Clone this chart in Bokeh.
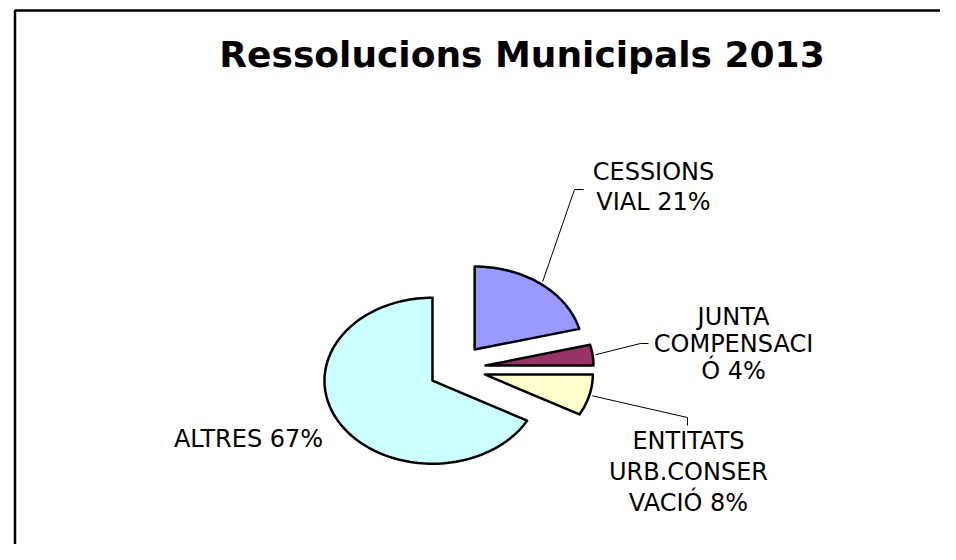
import numpy as np
from bokeh.plotting import figure
from bokeh.models import ColumnDataSource, Range1d
from bokeh.core.properties import value
from bokeh.embed import file_html
from bokeh.resources import INLINE

# ---------------- data ----------------
title_text = "Ressolucions Municipals 2013"
categories = ["CESSIONS VIAL", "JUNTA COMPENSACIÓ", "ENTITATS URB.CONSERVACIÓ", "ALTRES"]
values = [21, 4, 8, 67]
colors = ["#9999FF", "#993366", "#FFFFCC", "#CCFFFF"]
label_lines = [
    ["CESSIONS", "VIAL 21%"],
    ["JUNTA", "COMPENSACI", "Ó 4%"],
    ["ENTITATS", "URB.CONSER", "VACIÓ 8%"],
    ["ALTRES 67%"],
]

# ---------------- layout (pixel space) ----------------
W, H = 940, 544
cx, cy, rx, ry = 456.6, 368.0, 108.0, 83.0
ex, ey = 28.6, 24.0
TXT_SHIFT = 9      # compensation for rendered baseline offset (labels)
TITLE_SHIFT = 13
label_pos = [(653, 180), (733, 325), (688, 449), (248, 447)]
line_step = [30, 27, 31, 30]
leader_elbows = [
    [(574, 189), (583, 189)],
    [(640, 343), (648, 343)],
    [(687, 417), (687, 425)],
    None,
]

p = figure(width=W, height=H,
           x_range=Range1d(0, W), y_range=Range1d(H, 0),
           output_backend="svg", toolbar_location=None,
           x_axis_location=None, y_axis_location=None, min_border=0)
p.grid.visible = False
p.outline_line_color = None
p.background_fill_color = "white"
p.border_fill_color = "white"

# frame (left and top edges visible)
p.line([14.5, 14.5, 980], [600, 10, 10], line_color="black", line_width=2.5)

# pie slices
total = float(sum(values))
fr = np.cumsum([0] + values) / total
xs, ys, lead_x, lead_y = [], [], [], []
for i in range(len(values)):
    a0, a1 = 2 * np.pi * fr[i], 2 * np.pi * fr[i + 1]
    am = 0.5 * (a0 + a1)
    ox = cx + ex * np.sin(am)
    oy = cy - ey * np.cos(am)
    t = np.linspace(a0, a1, 120)
    xs.append([ox] + list(ox + rx * np.sin(t)))
    ys.append([oy] + list(oy - ry * np.cos(t)))
    if leader_elbows[i] is not None:
        sx = ox + (rx + 3) * np.sin(am)
        sy = oy - (ry + 3) * np.cos(am)
        lead_x.append([sx] + [pt[0] for pt in leader_elbows[i]])
        lead_y.append([sy] + [pt[1] for pt in leader_elbows[i]])

src = ColumnDataSource(dict(xs=xs, ys=ys, color=colors, name=categories, value=values))
p.patches("xs", "ys", source=src, fill_color="color", line_color="black",
          line_width=2.5, line_join="round")

p.multi_line(lead_x, lead_y, line_color="black", line_width=1)

# labels
tx, ty, tt = [], [], []
for i, lines in enumerate(label_lines):
    lx, ly = label_pos[i]
    for j, s in enumerate(lines):
        tx.append(lx)
        ty.append(ly + j * line_step[i] - TXT_SHIFT)
        tt.append(s)
p.text(tx, ty, text=tt, text_font=value("DejaVu Sans"), text_font_size="24px",
       text_align="center", text_baseline="alphabetic", text_color="black")

# title
p.text([521.5], [67 - TITLE_SHIFT], text=[title_text], text_font=value("DejaVu Sans"),
       text_font_style="bold", text_font_size="36px", text_align="center",
       text_baseline="alphabetic", text_color="black")

open("out.html", "w").write(file_html(p, INLINE))
